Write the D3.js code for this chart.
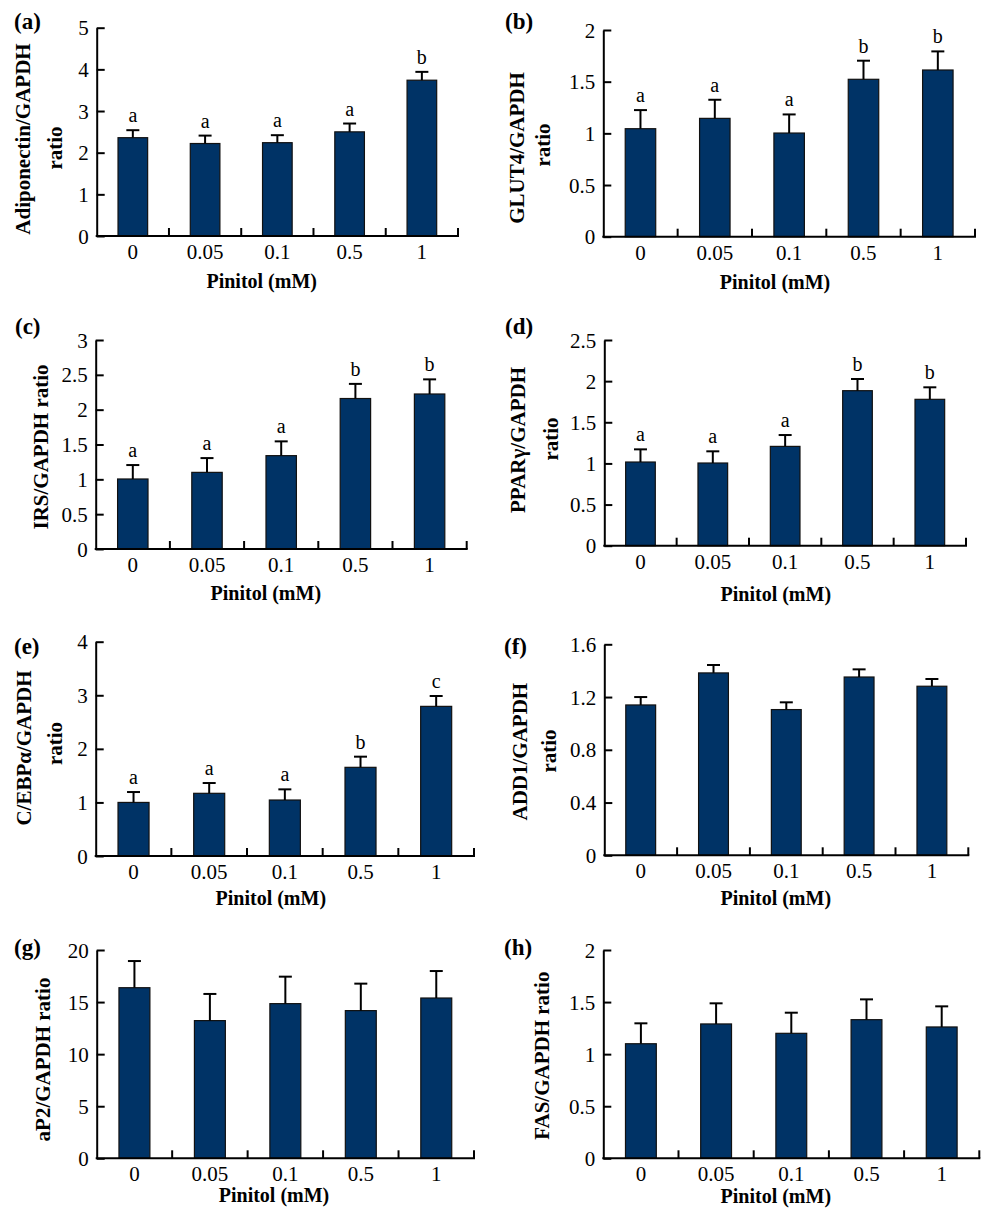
<!DOCTYPE html>
<html>
<head>
<meta charset="utf-8">
<script src="https://cdn.jsdelivr.net/npm/d3@7"></script>
<style>
  html, body { margin: 0; padding: 0; background: #fff; }
  svg { display: block; }
  text { font-family: "Liberation Serif", "Times New Roman", serif; fill: #000; }
</style>
</head>
<body>
<svg id="chart" width="984" height="1211"></svg>
<script>
// ---------- DATA ----------
const categories = ["0", "0.05", "0.1", "0.5", "1"];
const xTitle = "Pinitol (mM)";

const adiponectinMean = [2.36, 2.22, 2.24, 2.50, 3.74];
const adiponectinErr  = [0.18, 0.19, 0.18, 0.20, 0.20];
const adiponectinSig  = ["a", "a", "a", "a", "b"];
const adiponectinTicks = ["0", "1", "2", "3", "4", "5"];

const glut4Mean = [1.045, 1.145, 1.003, 1.523, 1.613];
const glut4Err  = [0.18, 0.18, 0.18, 0.18, 0.18];
const glut4Sig  = ["a", "a", "a", "b", "b"];
const glut4Ticks = ["0", "0.5", "1", "1.5", "2"];

const irsMean = [1.005, 1.10, 1.34, 2.16, 2.225];
const irsErr  = [0.20, 0.205, 0.205, 0.21, 0.21];
const irsSig  = ["a", "a", "a", "b", "b"];
const irsTicks = ["0", "0.5", "1", "1.5", "2", "2.5", "3"];

const ppargMean = [1.017, 1.005, 1.207, 1.884, 1.779];
const ppargErr  = [0.154, 0.142, 0.138, 0.142, 0.146];
const ppargSig  = ["a", "a", "a", "b", "b"];
const ppargTicks = ["0", "0.5", "1", "1.5", "2", "2.5"];

const cebpMean = [1.00, 1.17, 1.045, 1.655, 2.793];
const cebpErr  = [0.194, 0.192, 0.199, 0.199, 0.193];
const cebpSig  = ["a", "a", "a", "b", "c"];
const cebpTicks = ["0", "1", "2", "3", "4"];

const add1Mean = [1.14, 1.383, 1.105, 1.352, 1.282];
const add1Err  = [0.06, 0.06, 0.055, 0.058, 0.055];
const add1Sig  = ["", "", "", "", ""];
const add1Ticks = ["0", "0.4", "0.8", "1.2", "1.6"];

const ap2Mean = [16.38, 13.22, 14.85, 14.18, 15.39];
const ap2Err  = [2.56, 2.56, 2.59, 2.59, 2.59];
const ap2Sig  = ["", "", "", "", ""];
const ap2Ticks = ["0", "5", "10", "15", "20"];

const fasMean = [1.10, 1.29, 1.20, 1.331, 1.261];
const fasErr  = [0.196, 0.198, 0.198, 0.195, 0.198];
const fasSig  = ["", "", "", "", ""];
const fasTicks = ["0", "0.5", "1", "1.5", "2"];

// ---------- PANEL SETUP (layout) ----------
const panels = [
  { tag: "(a)", ylab: ["Adiponectin/GAPDH", "ratio"], mean: adiponectinMean, err: adiponectinErr, sig: adiponectinSig, ticks: adiponectinTicks,
    box: { x0: 96.7, x1: 458, yTop: 27.7, y0: 236 }, tagPos: [14, 29],
    ylabPos: [[30, 139], [61.5, 148]], titlePos: [261.7, 288] },
  { tag: "(b)", ylab: ["GLUT4/GAPDH", "ratio"], mean: glut4Mean, err: glut4Err, sig: glut4Sig, ticks: glut4Ticks,
    box: { x0: 603.3, x1: 975, yTop: 30, y0: 236.7 }, tagPos: [505, 29],
    ylabPos: [[524, 148], [550, 145]], titlePos: [775, 289] },
  { tag: "(c)", ylab: ["IRS/GAPDH ratio"], mean: irsMean, err: irsErr, sig: irsSig, ticks: irsTicks,
    box: { x0: 95.7, x1: 466.7, yTop: 340, y0: 549 }, tagPos: [15, 334],
    ylabPos: [[48, 447]], titlePos: [265.8, 600] },
  { tag: "(d)", ylab: ["PPARγ/GAPDH", "ratio"], mean: ppargMean, err: ppargErr, sig: ppargSig, ticks: ppargTicks,
    box: { x0: 604.3, x1: 966, yTop: 340, y0: 545.7 }, tagPos: [505, 334],
    ylabPos: [[524.5, 440], [558, 439]], titlePos: [775.8, 601] },
  { tag: "(e)", ylab: ["C/EBPα/GAPDH", "ratio"], mean: cebpMean, err: cebpErr, sig: cebpSig, ticks: cebpTicks,
    box: { x0: 95.7, x1: 474, yTop: 641.7, y0: 856 }, tagPos: [14, 654],
    ylabPos: [[31, 748], [61.7, 743.5]], titlePos: [270.8, 905] },
  { tag: "(f)", ylab: ["ADD1/GAPDH", "ratio"], mean: add1Mean, err: add1Err, sig: add1Sig, ticks: add1Ticks,
    box: { x0: 604.3, x1: 968.3, yTop: 644.3, y0: 855.3 }, tagPos: [504, 654],
    ylabPos: [[527, 751.7], [556, 751]], titlePos: [775.8, 905] },
  { tag: "(g)", ylab: ["aP2/GAPDH ratio"], mean: ap2Mean, err: ap2Err, sig: ap2Sig, ticks: ap2Ticks,
    box: { x0: 96.7, x1: 474, yTop: 950, y0: 1158.3 }, tagPos: [14, 955],
    ylabPos: [[50, 1059.5]], titlePos: [274, 1202] },
  { tag: "(h)", ylab: ["FAS/GAPDH ratio"], mean: fasMean, err: fasErr, sig: fasSig, ticks: fasTicks,
    box: { x0: 603.3, x1: 979.3, yTop: 950, y0: 1158.3 }, tagPos: [504, 955],
    ylabPos: [[549, 1055.7]], titlePos: [775.8, 1203] }
];

const BAR_FILL = "#003366";
const svg = d3.select("#chart");

panels.forEach(p => {
  const g = svg.append("g");
  const b = p.box;
  const tickVals = p.ticks.map(Number);
  const yMax = d3.max(tickVals);

  const x = d3.scaleBand().domain(categories).range([b.x0, b.x1])
    .paddingInner(0.59).paddingOuter(0.295);
  const y = d3.scaleLinear().domain([0, yMax]).range([b.y0, b.yTop]);
  const step = x.step();
  const bandStart = c => x(c) - x.paddingOuter() * step; // left edge of category slot

  const rows = categories.map((c, i) => ({ c, m: p.mean[i], e: p.err[i], s: p.sig[i] }));

  // bars
  g.selectAll("rect.bar").data(rows).join("rect")
    .attr("class", "bar")
    .attr("x", d => x(d.c))
    .attr("width", x.bandwidth())
    .attr("y", d => y(d.m))
    .attr("height", d => y(0) - y(d.m))
    .attr("fill", BAR_FILL)
    .attr("stroke", "#111")
    .attr("stroke-width", 1.2);

  // error bars (upper only)
  const cx = d => x(d.c) + x.bandwidth() / 2;
  g.selectAll("line.err").data(rows).join("line")
    .attr("x1", cx).attr("x2", cx)
    .attr("y1", d => y(d.m)).attr("y2", d => y(d.m + d.e))
    .attr("stroke", "#000").attr("stroke-width", 2);
  g.selectAll("line.cap").data(rows).join("line")
    .attr("x1", d => cx(d) - 6.5).attr("x2", d => cx(d) + 6.5)
    .attr("y1", d => y(d.m + d.e)).attr("y2", d => y(d.m + d.e))
    .attr("stroke", "#000").attr("stroke-width", 2);

  // significance letters
  g.selectAll("text.sig").data(rows.filter(d => d.s)).join("text")
    .attr("x", cx)
    .attr("y", d => y(d.m + d.e) - 8)
    .attr("text-anchor", "middle")
    .attr("font-size", 20)
    .text(d => d.s);

  // y axis
  const yAxis = d3.axisLeft(y).tickValues(tickVals)
    .tickFormat((v, i) => p.ticks[i])
    .tickSizeInner(-8).tickSizeOuter(0).tickPadding(8);
  const ya = g.append("g").attr("transform", `translate(${b.x0},0)`).call(yAxis);
  ya.select(".domain").attr("stroke", "#000").attr("stroke-width", 2);
  ya.selectAll(".tick line").attr("stroke", "#000").attr("stroke-width", 2);
  ya.selectAll(".tick text").attr("font-size", 21)
    .attr("font-family", "'Liberation Serif', 'Times New Roman', serif")
    .attr("fill", "#000").attr("dy", "0.34em");

  // x axis labels
  const xAxis = d3.axisBottom(x).tickSize(0).tickPadding(8);
  const xa = g.append("g").attr("transform", `translate(0,${b.y0})`).call(xAxis);
  xa.select(".domain").remove();
  xa.selectAll(".tick text").attr("font-size", 21)
    .attr("font-family", "'Liberation Serif', 'Times New Roman', serif")
    .attr("fill", "#000");

  // x axis line + inward boundary ticks
  g.append("line")
    .attr("x1", b.x0 - 1).attr("x2", b.x1 + 1)
    .attr("y1", b.y0).attr("y2", b.y0)
    .attr("stroke", "#000").attr("stroke-width", 2);
  g.selectAll("line.bt").data(categories).join("line")
    .attr("x1", c => bandStart(c) + step).attr("x2", c => bandStart(c) + step)
    .attr("y1", b.y0).attr("y2", b.y0 - 8)
    .attr("stroke", "#000").attr("stroke-width", 2);

  // x title
  g.append("text")
    .attr("x", p.titlePos[0]).attr("y", p.titlePos[1])
    .attr("text-anchor", "middle")
    .attr("font-size", 20).attr("font-weight", "bold")
    .text(xTitle);

  // y label
  p.ylab.forEach((t, i) => {
    const [lx, ly] = p.ylabPos[i];
    g.append("text")
      .attr("transform", `translate(${lx},${ly}) rotate(-90)`)
      .attr("text-anchor", "middle")
      .attr("font-size", 21).attr("font-weight", "bold")
      .text(t);
  });

  // panel tag
  g.append("text")
    .attr("x", p.tagPos[0]).attr("y", p.tagPos[1])
    .attr("font-size", 23).attr("font-weight", "bold")
    .text(p.tag);
});
</script>
</body>
</html>
